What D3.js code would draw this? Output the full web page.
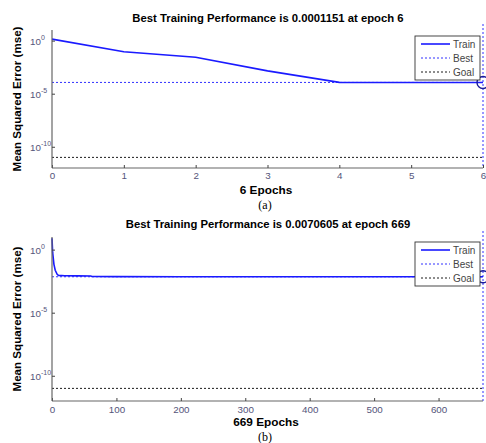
<!DOCTYPE html>
<html>
<head>
<meta charset="utf-8">
<script src="https://cdn.jsdelivr.net/npm/d3@7"></script>
<style>
  body { margin: 0; background: #fff; }
  svg { display: block; font-family: "Liberation Sans", Arial, sans-serif; }
</style>
</head>
<body>
<svg id="chart" width="486" height="443"></svg>
<script>
// panel (a)
const epochsA = [0, 1, 2, 3, 4, 5, 6];
const trainA = [1.38, 0.089, 0.027, 0.0014, 0.000116, 0.0001151, 0.0001151];
const bestA = 0.0001151;
const goalA = 1e-11;
const xTicksA = [0, 1, 2, 3, 4, 5, 6];

// panel (b)
const epochsB = [0, 1, 2, 3, 5, 8, 10, 20, 40, 60, 62, 100, 200, 300, 400, 500, 600, 669];
const trainB = [7.9, 0.6, 0.2, 0.068, 0.023, 0.011, 0.0091, 0.0084, 0.0083, 0.0082, 0.0073, 0.00718, 0.00714, 0.00712, 0.00710, 0.00708, 0.00707, 0.0070605];
const bestB = 0.0070605;
const goalB = 1e-11;
const xTicksB = [0, 100, 200, 300, 400, 500, 600];

const yTicks = [1, 1e-5, 1e-10];
const yTickExp = ['0', '-5', '-10'];
const legendItems = ['Train', 'Best', 'Goal'];

const svg = d3.select('#chart');
const blue = '#1a1aff';
const tickColor = '#54547a';

const panel = (cfg) => {
  const x = d3.scaleLinear().domain([0, cfg.maxEpoch]).range([cfg.left, cfg.right]);
  const y = d3.scaleLog().domain([1e-12, 1e1]).range([cfg.bottom, cfg.top]);
  const g = svg.append('g');

  // title
  g.append('text')
    .attr('x', 268).attr('y', cfg.top - cfg.titleGap)
    .attr('text-anchor', 'middle')
    .attr('font-size', 11.3).attr('font-weight', 'bold')
    .text(cfg.title);

  // goal line
  g.append('line')
    .attr('x1', x(0)).attr('x2', x(cfg.maxEpoch))
    .attr('y1', y(cfg.goal)).attr('y2', y(cfg.goal))
    .attr('stroke', '#000').attr('stroke-width', 0.9).attr('stroke-dasharray', '2,2');

  // best lines
  g.append('line')
    .attr('x1', x(0)).attr('x2', x(cfg.maxEpoch))
    .attr('y1', y(cfg.best)).attr('y2', y(cfg.best))
    .attr('stroke', blue).attr('stroke-width', 0.9).attr('stroke-dasharray', '2,2');
  g.append('line')
    .attr('x1', x(cfg.maxEpoch)).attr('x2', x(cfg.maxEpoch))
    .attr('y1', cfg.top - 6).attr('y2', cfg.bottom)
    .attr('stroke', blue).attr('stroke-width', 0.9).attr('stroke-dasharray', '2,2');

  // train curve
  const line = d3.line().x((d, i) => x(cfg.epochs[i])).y((d) => y(d));
  g.append('path')
    .datum(cfg.train)
    .attr('d', line)
    .attr('fill', 'none').attr('stroke', blue).attr('stroke-width', 1.6);

  g.append('circle')
    .attr('cx', x(cfg.maxEpoch)).attr('cy', y(cfg.best)).attr('r', 6)
    .attr('fill', 'none').attr('stroke', '#1a1a99').attr('stroke-width', 1.4);

  // axes
  const xAxis = g.append('g')
    .attr('transform', `translate(0,${cfg.bottom})`)
    .call(d3.axisBottom(x).tickValues(cfg.xTicks).tickFormat(d3.format('d'))
      .tickSizeInner(-3).tickSizeOuter(0).tickPadding(cfg.tickPad));
  const yAxis = g.append('g')
    .attr('transform', `translate(${cfg.left},0)`)
    .call(d3.axisLeft(y).tickValues(yTicks).tickSizeInner(-3).tickSizeOuter(0).tickFormat(''));
  [xAxis, yAxis].forEach((a) => {
    a.select('.domain').attr('stroke', '#666').attr('stroke-width', 1.2);
    a.selectAll('.tick line').attr('stroke', '#444');
    a.selectAll('.tick text').attr('fill', tickColor).attr('font-size', 9.8).attr('font-family', '"Liberation Sans", Arial, sans-serif');
  });
  yAxis.select('.domain').attr('d', `M0,${cfg.top}V${cfg.bottom}`);
  xAxis.select('.domain').attr('d', `M${cfg.left},0H${cfg.right}`);

  // y tick labels with exponent
  yTicks.forEach((t, i) => {
    const lab = g.append('text')
      .attr('x', cfg.left - 22).attr('y', y(t) + 4)
      .attr('fill', tickColor).attr('font-size', 9.8);
    lab.append('tspan').text('10');
    lab.append('tspan').attr('dy', -5).attr('font-size', 7).text(yTickExp[i]);
  });

  // axis labels
  g.append('text')
    .attr('transform', `translate(21,${(cfg.top + cfg.bottom) / 2}) rotate(-90)`)
    .attr('text-anchor', 'middle')
    .attr('font-size', 11.6).attr('font-weight', 'bold')
    .text('Mean Squared Error  (mse)');
  g.append('text')
    .attr('x', 266).attr('y', cfg.bottom + cfg.xLabGap)
    .attr('text-anchor', 'middle')
    .attr('font-size', 11.8).attr('font-weight', 'bold')
    .text(cfg.xLabel);
  g.append('text')
    .attr('x', 265).attr('y', cfg.bottom + cfg.subGap)
    .attr('text-anchor', 'middle')
    .attr('font-family', '"Liberation Serif", "Times New Roman", serif')
    .attr('font-size', 12)
    .text(cfg.sub);

  // legend
  const lg = g.append('g').attr('transform', `translate(415,${cfg.legendTop})`);
  lg.append('rect').attr('width', 65).attr('height', 44)
    .attr('fill', '#fff').attr('stroke', '#333').attr('stroke-width', 0.9);
  const styles = [
    { stroke: blue, dash: null, w: 1.6 },
    { stroke: blue, dash: '2,2', w: 0.9 },
    { stroke: '#000', dash: '2,2', w: 0.9 }
  ];
  legendItems.forEach((name, i) => {
    const yy = 8 + i * 14;
    lg.append('line')
      .attr('x1', 6).attr('x2', 35).attr('y1', yy).attr('y2', yy)
      .attr('stroke', styles[i].stroke).attr('stroke-width', styles[i].w)
      .attr('stroke-dasharray', styles[i].dash);
    lg.append('text')
      .attr('x', 38).attr('y', yy + 3.5)
      .attr('font-size', 10).attr('fill', '#444')
      .text(name);
  });
};

panel({
  epochs: epochsA, train: trainA, best: bestA, goal: goalA, xTicks: xTicksA, maxEpoch: 6,
  left: 52, right: 483, top: 30, bottom: 168, legendTop: 36,
  titleGap: 8, tickPad: 4, xLabGap: 26, subGap: 41,
  title: 'Best Training Performance is 0.0001151 at epoch 6',
  xLabel: '6 Epochs', sub: '(a)'
});

panel({
  epochs: epochsB, train: trainB, best: bestB, goal: goalB, xTicks: xTicksB, maxEpoch: 669,
  left: 52, right: 483, top: 237, bottom: 401, legendTop: 242,
  titleGap: 9, tickPad: 5, xLabGap: 25, subGap: 39.5,
  title: 'Best Training Performance is 0.0070605 at epoch 669',
  xLabel: '669 Epochs', sub: '(b)'
});
</script>
</body>
</html>
